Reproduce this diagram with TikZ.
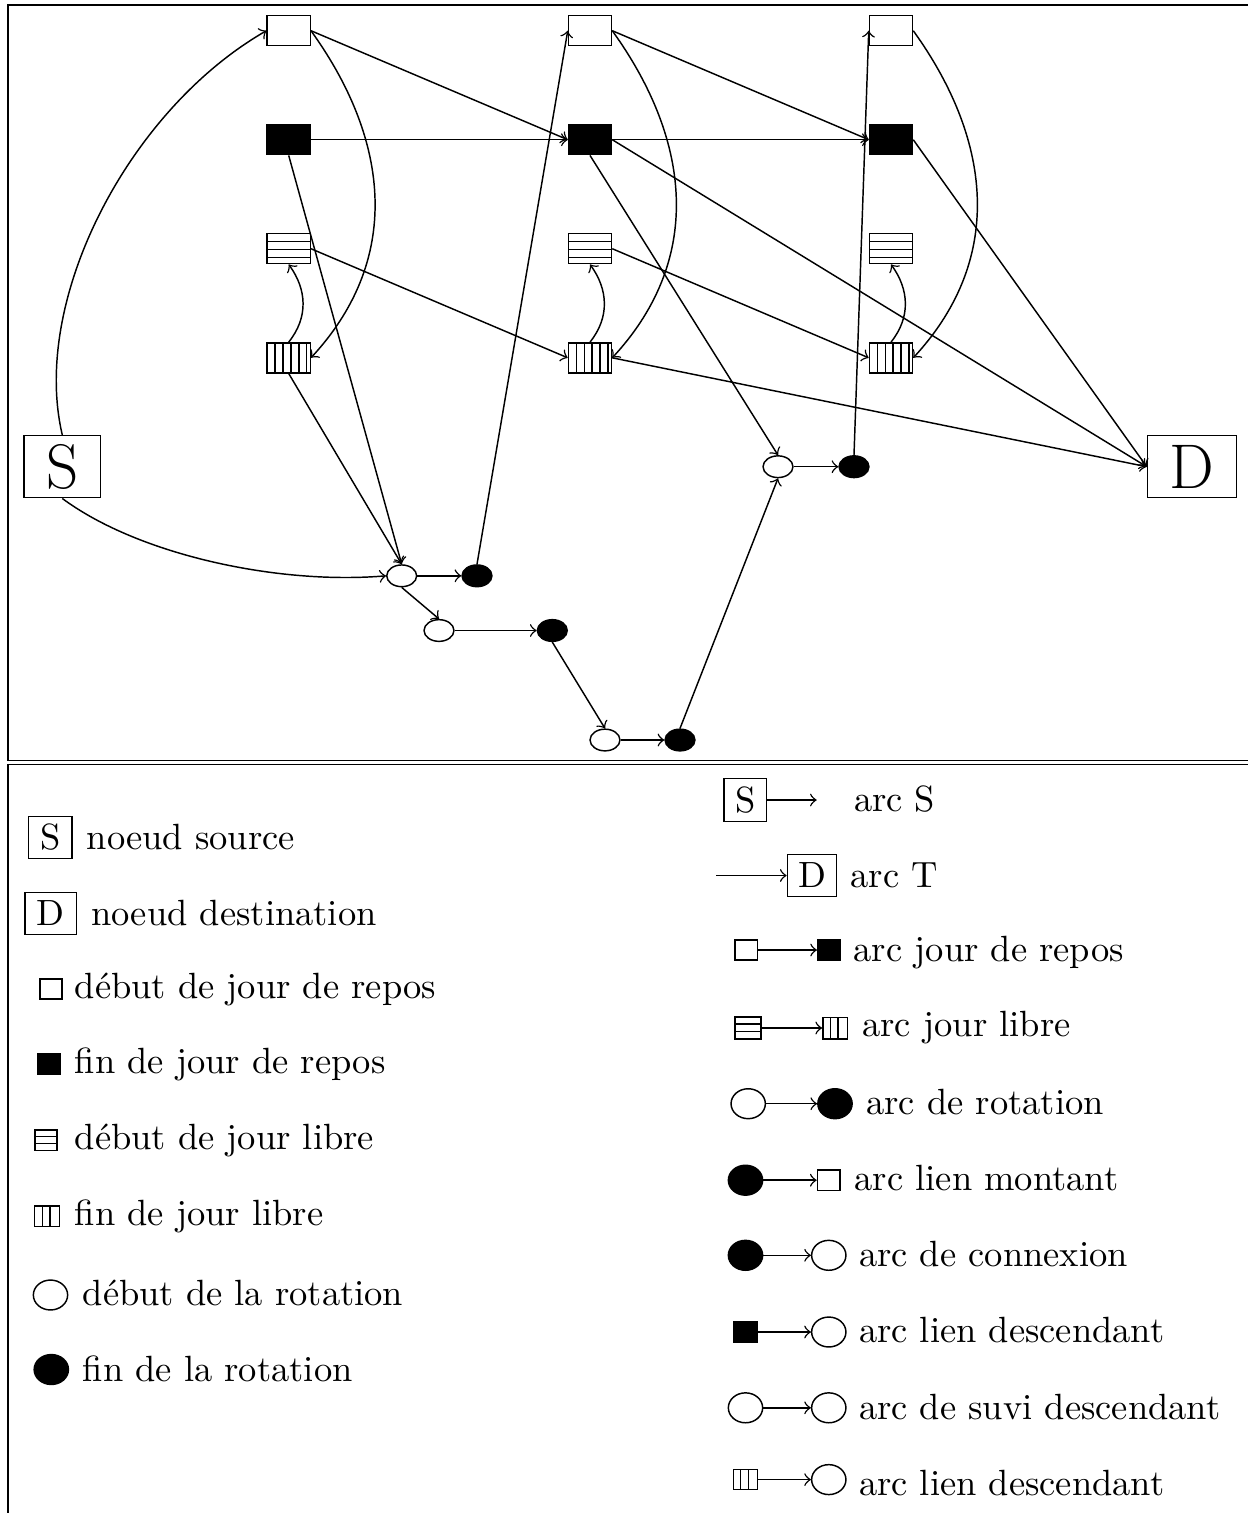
\documentclass[tikz,border=0pt]{standalone}
\usetikzlibrary{shapes.geometric,calc}
\tikzset{
  rbox/.style 2 args={draw,rectangle,inner sep=0pt,minimum width=#1,minimum height=#2},
  ovl/.style 2 args={draw,ellipse,inner sep=0pt,minimum width=#1,minimum height=#2},
  dark/.style={fill=black},
  hl/.style 2 args={path picture={\foreach \k in {1,...,#1}{\draw ([yshift=-\k*#2]path picture bounding box.north west) -- ([yshift=-\k*#2]path picture bounding box.north east);}}},
  vl/.style 2 args={path picture={\foreach \k in {1,...,#1}{\draw ([xshift=\k*#2]path picture bounding box.south west) -- ([xshift=\k*#2]path picture bounding box.north west);}}},
  gsq/.style={rbox={11.8pt}{8.2pt}},
  gov/.style={ovl={8.2pt}{5.95pt}},
  lov/.style={ovl={9.4pt}{8.2pt}},
  big/.style={draw,rectangle,inner sep=0pt,font=\LARGE,minimum height=17pt},
  txt/.style={anchor=base west,inner sep=0pt},
  lnk/.style={->},
}
\begin{document}
\begin{tikzpicture}[x=0.274pt,y=-0.274pt,>=to]
\useasboundingbox (0,0) rectangle (1248,1513);

% frames
\draw (1248,5) -- (8,5) -- (8,760.5) -- (1248,760.5);
\draw (1248,764.5) -- (8,764.5) -- (8,1513);

% day columns
\foreach \c/\x in {1/288.7,2/590,3/891}{
  \node[gsq] (W\c) at (\x,30.7) {};
  \node[gsq,dark] (B\c) at (\x,139.7) {};
  \node[gsq,hl={3}{2.17pt}] (H\c) at (\x,248.7) {};
  \node[gsq,vl={5}{2.17pt}] (V\c) at (\x,357.8) {};
}

% source and destination
\node[big,minimum width=21pt] (S) at (62.3,466.7) {S};
\node[big,minimum width=24.4pt] (D) at (1192,466.7) {D};

% rotations
\node[gov] (a1) at (401.7,575.8) {};
\node[gov,dark] (b1) at (477,575.8) {};
\node[gov] (a2) at (439,630.5) {};
\node[gov,dark] (b2) at (552.3,630.5) {};
\node[gov] (a3) at (605,740) {};
\node[gov,dark] (b3) at (680,740) {};
\node[gov] (a4) at (778,466.7) {};
\node[gov,dark] (b4) at (854,466.7) {};

% arcs
\draw[lnk] (S.north) .. controls +(-32,-136) and +(-137,79) .. (W1.west);
\draw[lnk] (S.south) .. controls +(77,57) and +(-107,9) .. (a1.west);
\foreach \c in {1,2,3}{
  \draw[lnk] (W\c.east) .. controls +(75,104) and +(95,-103) .. (V\c.east);
  \draw[lnk] (V\c.north) .. controls +(20,-25) and +(18,25) .. (H\c.south);
}
\draw[lnk] (W1.east) -- (B2.west);
\draw[lnk] (W2.east) -- (B3.west);
\draw[lnk] (B1.east) -- (B2.west);
\draw[lnk] (B2.east) -- (B3.west);
\draw[lnk] (H1.east) -- (V2.west);
\draw[lnk] (H2.east) -- (V3.west);
\draw[lnk] (B1.south) -- (a1.north);
\draw[lnk] (V1.south) -- (a1.north);
\draw[lnk] (a1.east) -- (b1.west);
\draw[lnk] (a1.south) -- (a2.north);
\draw[lnk] (a2.east) -- (b2.west);
\draw[lnk] (b2.south) -- (a3.north);
\draw[lnk] (a3.east) -- (b3.west);
\draw[lnk] (b3.north) -- (a4.south);
\draw[lnk] (a4.east) -- (b4.west);
\draw[lnk] (b1.north) -- (W2.west);
\draw[lnk] (b4.north) -- (W3.west);
\draw[lnk] (B2.south) -- (a4.north);
\draw[lnk] (B2.east) -- (D.west);
\draw[lnk] (B3.east) -- (D.west);
\draw[lnk] (V2.east) -- (D.west);

% legend, left column
\node[rbox={12pt}{11.5pt}] (LS) at (50.3,837.5) {S};
\node[txt] (tL1) at (86,849) {noeud source};
\node[rbox={14.2pt}{11.5pt}] (LD) at (50.8,913.3) {D};
\node[txt] (tL2) at (90.7,925) {noeud destination};
\node[rbox={6.1pt}{5.5pt}] (L3) at (51,989) {};
\node[txt] (tL3) at (74,998) {début de jour de repos};
\node[rbox={6.3pt}{5.6pt},dark] (L4) at (49,1064) {};
\node[txt] (tL4) at (74,1073) {fin de jour de repos};
\node[rbox={6pt}{5.6pt},hl={2}{1.9pt}] (L5) at (46,1140) {};
\node[txt] (tL5) at (74,1149) {début de jour libre};
\node[rbox={6.8pt}{5.6pt},vl={2}{2.1pt}] (L6) at (47,1216) {};
\node[txt] (tL6) at (74,1225) {fin de jour libre};
\node[lov] (L7) at (50.5,1295) {};
\node[txt] (tL7) at (82,1305) {début de la rotation};
\node[lov,dark] (L8) at (51.3,1369.5) {};
\node[txt] (tL8) at (82,1381) {fin de la rotation};

% legend, right column
\node[rbox={11.7pt}{11.8pt}] (RS) at (745.3,800) {S};
\coordinate (RSe) at (816.7,800);
\draw[lnk] (RS.east) -- (RSe);
\node[txt] (tR1) at (853.3,811.7) {arc S};

\coordinate (RDw) at (716,875.5);
\node[rbox={13.5pt}{11.6pt}] (RD) at (812,875.5) {D};
\draw[lnk] (RDw) -- (RD.west);
\node[txt] (tR2) at (850,887.7) {arc T};

\node[rbox={6.1pt}{5.5pt}] (R3a) at (746.2,950) {};
\node[rbox={6.2pt}{5.8pt},dark] (R3b) at (829,950) {};
\draw[lnk] (R3a.east) -- (R3b.west);
\node[txt] (tR3) at (853,961) {arc jour de repos};

\node[rbox={7pt}{6pt},hl={2}{1.95pt}] (R4a) at (748,1028) {};
\node[rbox={6.8pt}{5.9pt},vl={2}{2.1pt}] (R4b) at (835.2,1028) {};
\draw[lnk] (R4a.east) -- (R4b.west);
\node[txt] (tR4) at (861.7,1036) {arc jour libre};

\node[lov] (R5a) at (748.2,1103.7) {};
\node[lov,dark] (R5b) at (835,1103.7) {};
\draw[lnk] (R5a.east) -- (R5b.west);
\node[txt] (tR5) at (865.7,1114) {arc de rotation};

\node[lov,dark] (R6a) at (745.5,1180.2) {};
\node[rbox={6.2pt}{5.5pt}] (R6b) at (828.7,1180.2) {};
\draw[lnk] (R6a.east) -- (R6b.west);
\node[txt] (tR6) at (854,1190) {arc lien montant};

\node[lov,dark] (R7a) at (745.5,1255.3) {};
\node[lov] (R7b) at (828.8,1255.3) {};
\draw[lnk] (R7a.east) -- (R7b.west);
\node[txt] (tR7) at (858.3,1266) {arc de connexion};

\node[rbox={6.7pt}{5.75pt},dark] (R8a) at (745.5,1332) {};
\node[lov] (R8b) at (828.8,1332) {};
\draw[lnk] (R8a.east) -- (R8b.west);
\node[txt] (tR8) at (858.3,1342.7) {arc lien descendant};

\node[lov] (R9a) at (745.5,1407.8) {};
\node[lov] (R9b) at (828.8,1407.8) {};
\draw[lnk] (R9a.east) -- (R9b.west);
\node[txt] (tR9) at (858.3,1419.3) {arc de suvi descendant};

\node[rbox={6.7pt}{5.5pt},vl={2}{2.05pt}] (R10a) at (745.5,1479.6) {};
\node[lov] (R10b) at (828.8,1479.6) {};
\draw[lnk] (R10a.east) -- (R10b.west);
\node[txt] (tR10) at (858.3,1495) {arc lien descendant};
\end{tikzpicture}
\end{document}
